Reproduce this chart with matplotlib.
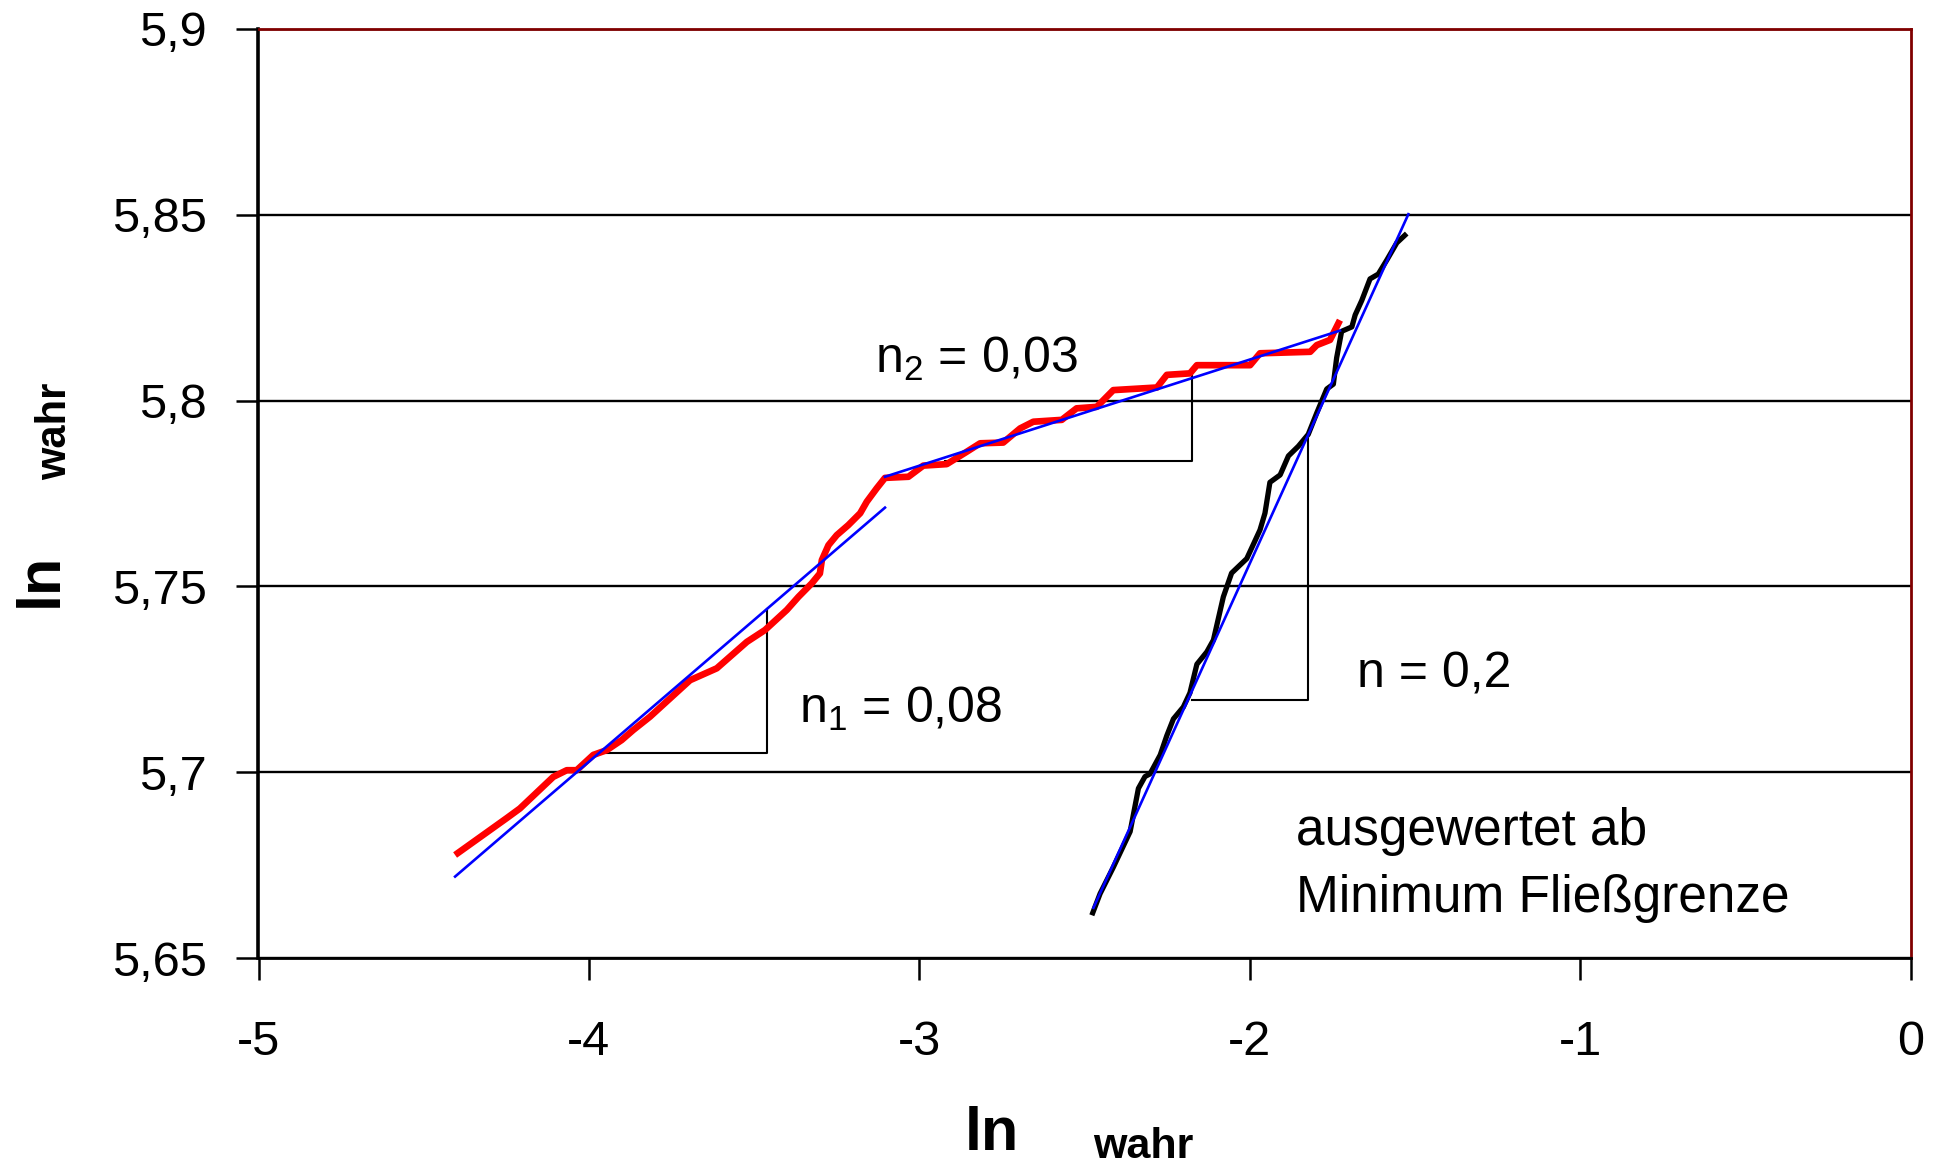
import matplotlib
matplotlib.use("Agg")
from matplotlib import pyplot as plt

plt.rcParams['font.family'] = ['Liberation Sans', 'DejaVu Sans']
plt.rcParams['mathtext.fontset'] = 'custom'
plt.rcParams['mathtext.rm'] = 'Liberation Sans'
plt.rcParams['mathtext.it'] = 'Liberation Sans'
plt.rcParams['mathtext.bf'] = 'Liberation Sans:bold'

# true strain (ln) vs. ln true stress, evaluated from the minimum yield point
red_x = [-4.405, -4.249, -4.209, -4.108, -4.067, -4.037, -3.987, -3.946, -3.901, -3.866,
         -3.815, -3.694, -3.613, -3.522, -3.467, -3.401, -3.366, -3.326, -3.301, -3.295,
         -3.275, -3.250, -3.215, -3.179, -3.159, -3.129, -3.104, -3.033, -2.988, -2.917,
         -2.857, -2.816, -2.746, -2.695, -2.655, -2.569, -2.524, -2.463, -2.413, -2.281,
         -2.251, -2.181, -2.160, -1.999, -1.969, -1.817, -1.797, -1.757, -1.727]
red_y = [5.6778, 5.6877, 5.6903, 5.6988, 5.7006, 5.7006, 5.7047, 5.7060, 5.7087, 5.7114,
         5.7150, 5.7248, 5.7280, 5.7351, 5.7383, 5.7437, 5.7472, 5.7508, 5.7535, 5.7571,
         5.7611, 5.7638, 5.7665, 5.7697, 5.7728, 5.7764, 5.7792, 5.7795, 5.7825, 5.7829,
         5.7862, 5.7885, 5.7887, 5.7925, 5.7943, 5.7948, 5.7979, 5.7983, 5.8028, 5.8035,
         5.8069, 5.8073, 5.8095, 5.8095, 5.8127, 5.8131, 5.8149, 5.8163, 5.8216]

black_x = [-2.478, -2.453, -2.413, -2.362, -2.337, -2.317, -2.302, -2.271, -2.251, -2.231,
           -2.201, -2.181, -2.160, -2.130, -2.110, -2.080, -2.055, -2.009, -1.969, -1.954,
           -1.939, -1.908, -1.883, -1.853, -1.823, -1.797, -1.767, -1.747, -1.737, -1.722,
           -1.691, -1.681, -1.661, -1.636, -1.611, -1.585, -1.555, -1.525]
black_y = [5.6616, 5.6674, 5.6745, 5.6841, 5.6957, 5.6989, 5.6996, 5.7047, 5.7099, 5.7144,
           5.7176, 5.7214, 5.7291, 5.7324, 5.7356, 5.7472, 5.7536, 5.7575, 5.7652, 5.7697,
           5.7780, 5.7800, 5.7851, 5.7877, 5.7909, 5.7967, 5.8031, 5.8044, 5.8115, 5.8186,
           5.8198, 5.8230, 5.8269, 5.8327, 5.8340, 5.8378, 5.8424, 5.8449]

# fitted lines (end points)
fit1_x, fit1_y = [-4.405, -3.104], [5.672, 5.7712]
fit2_x, fit2_y = [-3.104, -1.727], [5.7795, 5.8188]
fit3_x, fit3_y = [-2.473, -1.520], [5.6636, 5.8501]

# slope triangles
tri1_x, tri1_y = [-3.987, -3.462, -3.462], [5.7051, 5.7051, 5.7439]
tri2_x, tri2_y = [-2.922, -2.176, -2.176], [5.7838, 5.7838, 5.8073]
tri3_x, tri3_y = [-2.176, -1.823, -1.823], [5.7195, 5.7195, 5.7896]

x_ticks = [-5, -4, -3, -2, -1, 0]
x_labels = ['-5', '-4', '-3', '-2', '-1', '0']
y_ticks = [5.65, 5.7, 5.75, 5.8, 5.85, 5.9]
y_labels = ['5,65', '5,7', '5,75', '5,8', '5,85', '5,9']

W, H = 1949, 1167
fig = plt.figure(figsize=(W / 100, H / 100), dpi=100)
ax = fig.add_axes([258.5 / W, 1 - 958.4 / H, 1652.1 / W, 929.8 / H])

ax.set_xlim(-5, 0)
ax.set_ylim(5.65, 5.9)
ax.set_xticks(x_ticks, x_labels)
ax.set_yticks(y_ticks, y_labels)
ax.tick_params(axis='both', direction='out', length=16, width=1.8, labelsize=35, color='black')
ax.tick_params(axis='y', pad=21)
ax.tick_params(axis='x', pad=28)

ax.yaxis.grid(True, color='black', linewidth=1.7)
ax.set_axisbelow(True)

for side in ('left', 'bottom'):
    ax.spines[side].set_color('black')
ax.spines['left'].set_linewidth(2.6)
ax.spines['bottom'].set_linewidth(2.0)
for side in ('top', 'right'):
    ax.spines[side].set_color('#800000')
    ax.spines[side].set_linewidth(2.0)

ax.plot(red_x, red_y, color='#ff0000', linewidth=4.8, solid_capstyle='butt', zorder=3)
ax.plot(black_x, black_y, color='black', linewidth=3.8, solid_capstyle='butt', zorder=3)

for fx, fy in ((fit1_x, fit1_y), (fit2_x, fit2_y), (fit3_x, fit3_y)):
    ax.plot(fx, fy, color='#0000ff', linewidth=1.9, zorder=4)

for tx, ty in ((tri1_x, tri1_y), (tri2_x, tri2_y), (tri3_x, tri3_y)):
    ax.plot(tx, ty, color='black', linewidth=1.5, zorder=2)

ax.text(-3.363, 5.7132, r'n$_1$ = 0,08', fontsize=36, va='baseline', ha='left')
ax.text(-3.134, 5.8073, r'n$_2$ = 0,03', fontsize=36, va='baseline', ha='left')
ax.text(-1.674, 5.7229, 'n = 0,2', fontsize=36, va='baseline', ha='left')
ax.text(-1.861, 5.6805, 'ausgewertet ab', fontsize=37, va='baseline', ha='left')
ax.text(-1.861, 5.6625, 'Minimum Fließgrenze', fontsize=37, va='baseline', ha='left')

# axis titles
fig.text(992 / W, 1 - 1150 / H, 'ln', fontsize=44, fontweight='bold', ha='center', va='baseline')
fig.text(1143 / W, 1 - 1158 / H, 'wahr', fontsize=31, fontweight='bold', ha='center', va='baseline')
fig.text(41 / W, 1 - 580 / H, 'ln', fontsize=44, fontweight='bold', rotation=90,
         ha='center', va='center')
fig.text(55 / W, 1 - 431 / H, 'wahr', fontsize=30, fontweight='bold', rotation=90,
         ha='center', va='center', family=['Liberation Sans Narrow', 'Liberation Sans'])

fig.savefig('out.png', dpi=100)
